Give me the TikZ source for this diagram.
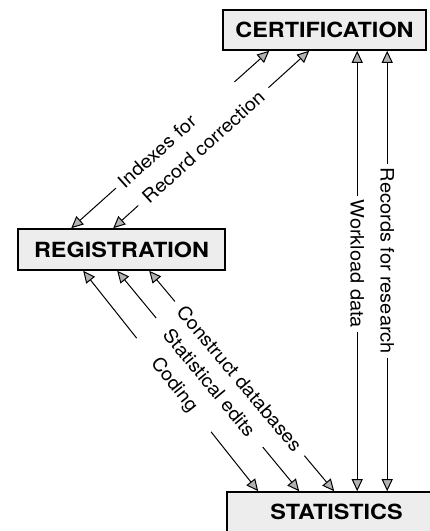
\documentclass[tikz,border=0pt]{standalone}
\usepackage{fontspec}
\setmainfont{TeX Gyre Heros}
\newfontfamily\unitfont[FakeStretch=1.12]{TeX Gyre Heros}
\newfontfamily\flowfont[FakeStretch=1.08]{TeX Gyre Heros}
\usetikzlibrary{arrows.meta}

\begin{document}
\begin{tikzpicture}[x=1pt,y=-1pt,
  unit/.style={draw, line width=1.6pt, fill=black!7, inner sep=0pt,
    font=\unitfont\bfseries\fontsize{20.9}{24}\selectfont},
  flow/.style={line width=1pt, {Triangle[length=12pt,width=11pt,fill=black!30]}-{Triangle[length=12pt,width=11pt,fill=black!30]}},
  lbl/.style={fill=white, inner ysep=1pt, font=\flowfont\fontsize{18.5}{22}\selectfont},
  vlbl/.style={lbl, rotate=-90, inner xsep=4pt}]
\useasboundingbox (0,0) rectangle (430,531);
\clip (0,0) rectangle (430,531);

% the three units
\node[unit, minimum width=203pt, minimum height=40pt] (cert) at (324.5,30) {CERTIFICATION};
\node[unit, minimum width=207pt, minimum height=41pt] (reg) at (121.5,249.5) {REGISTRATION};
\node[unit, minimum width=219pt, minimum height=40pt] (stats) at (336.5,512) {STATISTICS};

% connector ends on the box borders
\coordinate (c1) at ([xshift=47pt]cert.south west);
\coordinate (c2) at ([xshift=87pt]cert.south west);
\coordinate (cv1) at ([xshift=135pt]cert.south west);
\coordinate (cv2) at ([xshift=165pt]cert.south west);
\coordinate (r1) at ([xshift=54pt]reg.north west);
\coordinate (r2) at ([xshift=96pt]reg.north west);
\coordinate (q1) at ([xshift=66pt]reg.south west);
\coordinate (q2) at ([xshift=100pt]reg.south west);
\coordinate (q3) at ([xshift=132pt]reg.south west);
\coordinate (s1) at ([xshift=32pt]stats.north west);
\coordinate (s2) at ([xshift=73pt]stats.north west);
\coordinate (s3) at ([xshift=108pt]stats.north west);
\coordinate (sv1) at ([xshift=131pt]stats.north west);
\coordinate (sv2) at ([xshift=161pt]stats.north west);

% registration <-> certification
\draw[flow] (r1) -- node[lbl, sloped, pos=.525, text width=147pt, align=left, inner xsep=6pt] {Indexes for} (c1);
\draw[flow] (r2) -- node[lbl, sloped, pos=.46, inner xsep=9pt] {Record correction} (c2);

% registration <-> statistics
\draw[flow] (q1) -- node[lbl, sloped, pos=.518, inner xsep=28pt] {Coding} (s1);
\draw[flow] (q2) -- node[lbl, sloped, pos=.507, inner xsep=17pt] {Statistical edits} (s2);
\draw[flow] (q3) -- node[lbl, sloped, pos=.489, inner xsep=9pt] {Construct databases} (s3);

% certification <-> statistics
\draw[flow] (cv1) -- node[vlbl, pos=.484] {Workload data} (sv1);
\draw[flow] (cv2) -- node[vlbl, pos=.477] {Records for research} (sv2);
\end{tikzpicture}
\end{document}
